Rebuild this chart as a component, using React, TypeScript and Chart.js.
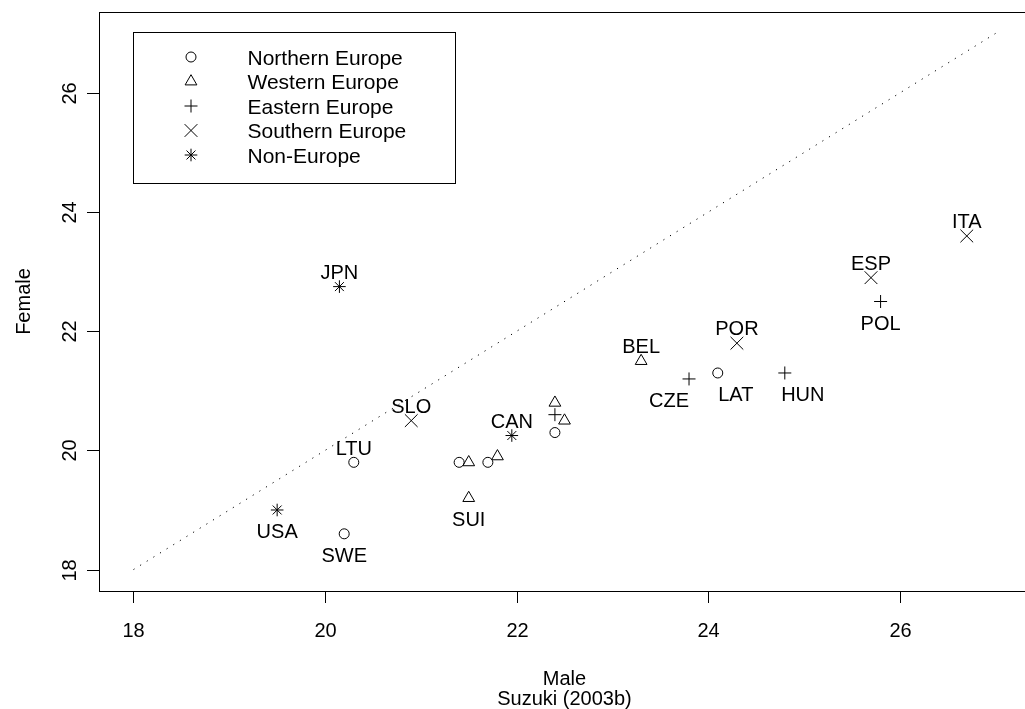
import React, { useEffect, useRef } from 'react';
import { Chart, registerables } from 'chart.js';

Chart.register(...registerables);

// ---- data ----
const groupNames = ['Northern Europe', 'Western Europe', 'Eastern Europe', 'Southern Europe', 'Non-Europe'];

const northMale = [20.3, 20.2, 21.4, 21.7, 22.4, 24.1];
const northFemale = [19.8, 18.6, 19.8, 19.8, 20.3, 21.3];
const northLabels = ['LTU', 'SWE', '', '', '', 'LAT'];

const westMale = [21.5, 21.5, 21.8, 22.4, 22.5, 23.3];
const westFemale = [19.2, 19.8, 19.9, 20.8, 20.5, 21.5];
const westLabels = ['SUI', '', '', '', '', 'BEL'];

const eastMale = [22.4, 23.8, 24.8, 25.8];
const eastFemale = [20.6, 21.2, 21.3, 22.5];
const eastLabels = ['', 'CZE', 'HUN', 'POL'];

const southMale = [20.9, 24.3, 25.7, 26.7];
const southFemale = [20.5, 21.8, 22.9, 23.6];
const southLabels = ['SLO', 'POR', 'ESP', 'ITA'];

const nonEuMale = [20.15, 19.5, 21.95];
const nonEuFemale = [22.75, 19.0, 20.25];
const nonEuLabels = ['JPN', 'USA', 'CAN'];

const refLine = [18, 27];
const xTicks = [18, 20, 22, 24, 26];
const yTicks = [18, 20, 22, 24, 26];
const axisMin = 17.64;
const axisMax = 27.36;

const xTitle = 'Male';
const xSubTitle = 'Suzuki (2003b)';
const yTitle = 'Female';

// ---- styles ----
const FONT = '20px "Liberation Sans", Arial, sans-serif';
const LEGEND_FONT = '21px "Liberation Sans", Arial, sans-serif';
const symbolStyles = ['circle', 'triangle', 'cross', 'crossRot', 'star'];
const symbolRadius = [5, 6.8, 6.5, 9, 6.3];
const labelsBelow = ['SWE', 'SUI', 'USA', 'CZE', 'LAT', 'HUN', 'POL'];
const labelShiftX: Record<string, number> = { CZE: -20, LAT: 18, HUN: 18 };

const groupsMale = [northMale, westMale, eastMale, southMale, nonEuMale];
const groupsFemale = [northFemale, westFemale, eastFemale, southFemale, nonEuFemale];
const groupsLabels = [northLabels, westLabels, eastLabels, southLabels, nonEuLabels];

function drawSymbol(ctx: CanvasRenderingContext2D, style: string, x: number, y: number, r: number) {
  ctx.beginPath();
  if (style === 'circle') {
    ctx.arc(x, y, r, 0, Math.PI * 2);
  } else if (style === 'triangle') {
    for (let k = 0; k < 3; k++) {
      const a = (k * 2 * Math.PI) / 3;
      const px = x + Math.sin(a) * r;
      const py = y - Math.cos(a) * r;
      if (k === 0) ctx.moveTo(px, py);
      else ctx.lineTo(px, py);
    }
    ctx.closePath();
  } else {
    if (style === 'cross' || style === 'star') {
      ctx.moveTo(x - r, y);
      ctx.lineTo(x + r, y);
      ctx.moveTo(x, y - r);
      ctx.lineTo(x, y + r);
    }
    if (style === 'crossRot' || style === 'star') {
      const d = r * Math.SQRT1_2;
      ctx.moveTo(x - d, y - d);
      ctx.lineTo(x + d, y + d);
      ctx.moveTo(x - d, y + d);
      ctx.lineTo(x + d, y - d);
    }
  }
  ctx.stroke();
}

const framePlugin = {
  id: 'rframe',
  afterDraw(chart: any) {
    const ctx: CanvasRenderingContext2D = chart.ctx;
    const { left, right, top, bottom } = chart.chartArea;
    const xs = chart.scales.x;
    const ys = chart.scales.y;
    ctx.save();
    ctx.strokeStyle = '#000';
    ctx.fillStyle = '#000';
    ctx.lineWidth = 1;
    ctx.font = FONT;

    // box
    ctx.strokeRect(Math.round(left) + 0.5, Math.round(top) + 0.5, Math.round(right - left), Math.round(bottom - top));

    // x ticks
    ctx.textAlign = 'center';
    ctx.textBaseline = 'alphabetic';
    xTicks.forEach((v) => {
      const px = Math.round(xs.getPixelForValue(v)) + 0.5;
      ctx.beginPath();
      ctx.moveTo(px, bottom);
      ctx.lineTo(px, bottom + 12);
      ctx.stroke();
      ctx.fillText(String(v), px, 636.5);
    });

    // y ticks
    yTicks.forEach((v) => {
      const py = Math.round(ys.getPixelForValue(v)) + 0.5;
      ctx.beginPath();
      ctx.moveTo(left - 12, py);
      ctx.lineTo(left, py);
      ctx.stroke();
      ctx.save();
      ctx.translate(69, py);
      ctx.rotate(-Math.PI / 2);
      ctx.textAlign = 'center';
      ctx.fillText(String(v), 0, 7.2);
      ctx.restore();
    });

    // titles
    const cx = (left + right) / 2;
    ctx.textAlign = 'center';
    ctx.fillText(xTitle, cx, 685);
    ctx.fillText(xSubTitle, cx, 705);
    ctx.save();
    ctx.translate(23, (top + bottom) / 2);
    ctx.rotate(-Math.PI / 2);
    ctx.fillText(yTitle, 0, 7.2);
    ctx.restore();

    // point labels
    ctx.textAlign = 'center';
    groupsLabels.forEach((labels, gi) => {
      const meta = chart.getDatasetMeta(gi + 1);
      labels.forEach((lab, i) => {
        if (!lab) return;
        const el = meta.data[i];
        const dx = labelShiftX[lab] || 0;
        const below = labelsBelow.indexOf(lab) >= 0;
        const by = below ? el.y + 28.2 : el.y - 7.8;
        ctx.fillText(lab, el.x + dx, by);
      });
    });

    // legend
    ctx.strokeRect(133.5, 32.5, 322, 151);
    const rowY = [57, 81.5, 106, 130.5, 155];
    ctx.textAlign = 'left';
    ctx.font = LEGEND_FONT;
    groupNames.forEach((name, i) => {
      drawSymbol(ctx, symbolStyles[i], 191, rowY[i], symbolRadius[i]);
      ctx.fillText(name, 247.5, rowY[i] + 7.5);
    });

    ctx.restore();
  },
};

export default function App() {
  const ref = useRef<HTMLCanvasElement | null>(null);

  useEffect(() => {
    if (!ref.current) return;
    const datasets: any[] = [
      {
        label: 'reference',
        data: refLine.map((v) => ({ x: v, y: v })),
        showLine: true,
        borderColor: '#000',
        borderWidth: 1,
        borderDash: [1.2, 6.6],
        pointRadius: 0,
        fill: false,
      },
    ];
    groupsMale.forEach((males, gi) => {
      datasets.push({
        label: groupNames[gi],
        data: males.map((m, i) => ({ x: m, y: groupsFemale[gi][i] })),
        pointStyle: symbolStyles[gi],
        pointRadius: symbolRadius[gi],
        pointBorderWidth: 1,
        pointBorderColor: '#000',
        pointBackgroundColor: 'rgba(0,0,0,0)',
        borderColor: '#000',
        backgroundColor: 'rgba(0,0,0,0)',
        showLine: false,
      });
    });

    const chart = new Chart(ref.current, {
      type: 'scatter',
      data: { datasets },
      options: {
        responsive: false,
        animation: false,
        events: [],
        layout: { padding: { left: 99, top: 12, right: 8, bottom: 118 } },
        scales: {
          x: { type: 'linear', display: false, min: axisMin, max: axisMax },
          y: { type: 'linear', display: false, min: axisMin, max: axisMax },
        },
        plugins: {
          legend: { display: false },
          tooltip: { enabled: false },
        },
      },
      plugins: [framePlugin],
    } as any);
    return () => chart.destroy();
  }, []);

  return (
    <div style={{ position: 'fixed', left: 0, top: 0, width: 1040, height: 709, background: '#fff' }}>
      <canvas ref={ref} width={1040} height={709} style={{ display: 'block' }} />
    </div>
  );
}
